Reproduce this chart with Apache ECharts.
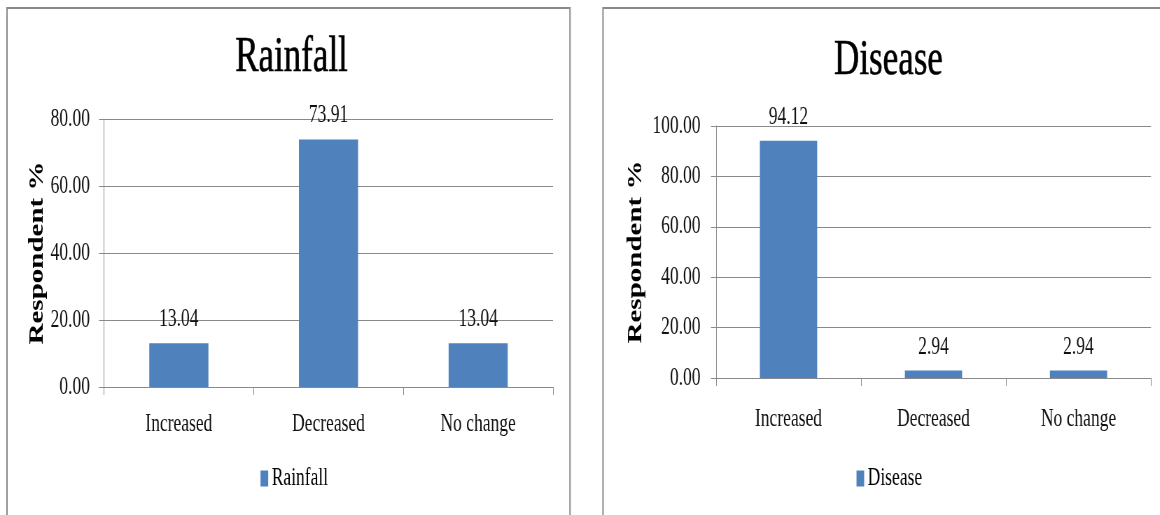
<!DOCTYPE html>
<html>
<head>
<meta charset="utf-8">
<script src="https://cdn.jsdelivr.net/npm/echarts@6/dist/echarts.min.js"></script>
<style>
  html, body { margin: 0; padding: 0; background: #fff; overflow: hidden; width: 1160px; height: 515px; }
  #wrap { width: 1160px; height: 515px; overflow: hidden; position: relative; }
  #chart { position: absolute; left: 0; top: 0; height: 515px; transform-origin: 0 0; }
</style>
</head>
<body>
<div id="wrap"><div id="chart"></div></div>
<script>
// Survey results: share of respondents per perceived change
const categories = ['Increased', 'Decreased', 'No change'];
const rainfall = [13.04, 73.91, 13.04];
const disease = [94.12, 2.94, 2.94];
const titles = ['Rainfall', 'Disease'];
const yAxisName = 'Respondent %';

// The drawing uses narrow (condensed) lettering: lay out wide, then squeeze horizontally.
const SX = 0.7;
const X = v => v / SX;
const W = 1160, H = 515;

const el = document.getElementById('chart');
el.style.width = X(W) + 'px';
el.style.transform = 'scaleX(' + SX + ')';

const FONT = "'Liberation Serif', 'DejaVu Serif', serif";
const GREY = '#898989';
const BLUE = '#4f81bd';
const INK = '#111';

function yAxis(idx, max, gap, labelMargin) {
  return {
    type: 'value', gridIndex: idx, min: 0, max: max, interval: 20,
    name: yAxisName, nameLocation: 'middle', nameRotate: 90, nameGap: gap,
    nameTextStyle: { fontFamily: FONT, fontWeight: 'bold', fontSize: 29, color: '#000' },
    axisLine: { show: true, lineStyle: { color: GREY, width: 1 } },
    axisTick: { show: true, length: X(5), lineStyle: { color: GREY } },
    axisLabel: { margin: labelMargin, fontFamily: FONT, fontSize: 25, color: INK,
                 formatter: v => v.toFixed(2) },
    splitLine: { show: true, lineStyle: { color: GREY, width: 1.2 } }
  };
}

function xAxis(idx, labelMargin) {
  return {
    type: 'category', gridIndex: idx, data: categories,
    axisLine: { show: true, lineStyle: { color: GREY, width: 1.2 } },
    axisTick: { show: true, length: 8, alignWithLabel: false, lineStyle: { color: GREY } },
    axisLabel: { margin: labelMargin, fontFamily: FONT, fontSize: 25, color: INK }
  };
}

function barSeries(name, data, idx) {
  return {
    name: name, type: 'bar', xAxisIndex: idx, yAxisIndex: idx, data: data,
    barWidth: '39.5%', itemStyle: { color: BLUE },
    label: { show: true, position: 'top', distance: 11, fontFamily: FONT, fontSize: 25,
             color: INK, formatter: p => p.value.toFixed(2) }
  };
}

const chart = echarts.init(el, null, { renderer: 'canvas' });
chart.setOption({
  animation: false,
  backgroundColor: '#fff',
  title: [
    { text: titles[0], left: X(288), top: 28, textAlign: 'center',
      textStyle: { fontFamily: FONT, fontSize: 50, fontWeight: 'normal', color: '#000',
                   textBorderColor: '#000', textBorderWidth: 0.6 } },
    { text: titles[1], left: X(885), top: 31, textAlign: 'center',
      textStyle: { fontFamily: FONT, fontSize: 50, fontWeight: 'normal', color: '#000',
                   textBorderColor: '#000', textBorderWidth: 0.6 } }
  ],
  legend: [
    { data: [titles[0]], left: X(257), top: 461, itemWidth: 11, itemHeight: 16, itemGap: 5,
      icon: 'rect', textStyle: { fontFamily: FONT, fontSize: 25, color: '#000' } },
    { data: [titles[1]], left: X(853), top: 461, itemWidth: 11, itemHeight: 16, itemGap: 5,
      icon: 'rect', textStyle: { fontFamily: FONT, fontSize: 25, color: '#000' } }
  ],
  grid: [
    { left: X(104), top: 119, width: X(449), height: 268 },
    { left: X(716), top: 126, width: X(435), height: 252 }
  ],
  xAxis: [xAxis(0, 25), xAxis(1, 29)],
  yAxis: [yAxis(0, 80, 74, 20), yAxis(1, 100, 100, 22)],
  series: [barSeries(titles[0], rainfall, 0), barSeries(titles[1], disease, 1)],
  graphic: [
    { type: 'rect', shape: { x: X(7), y: 8, width: X(563), height: 540 },
      style: { fill: null, stroke: GREY, lineWidth: 2 }, silent: true },
    { type: 'rect', shape: { x: X(603), y: 8, width: X(600), height: 540 },
      style: { fill: null, stroke: GREY, lineWidth: 2 }, silent: true }
  ]
});
</script>
</body>
</html>
